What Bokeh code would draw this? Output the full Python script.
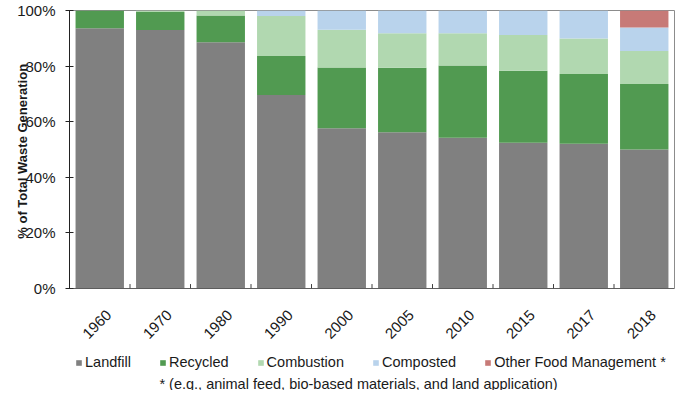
from bokeh.plotting import figure
from bokeh.models import (ColumnDataSource, FactorRange, Range1d, FixedTicker,
                          Legend, LegendItem, Label, Span)
from bokeh.core.properties import value
from bokeh.layouts import column
from bokeh.transform import dodge
from bokeh.embed import file_html
from bokeh.resources import INLINE
import math

years = ["1960", "1970", "1980", "1990", "2000", "2005", "2010", "2015", "2017", "2018"]
landfill = [93.6, 93.0, 88.6, 69.6, 57.6, 56.2, 54.2, 52.4, 52.1, 50.0]
recycled = [6.4, 6.5, 9.6, 14.0, 21.9, 23.2, 26.0, 25.9, 25.1, 23.6]
combustion = [0.0, 0.5, 1.8, 14.4, 13.6, 12.4, 11.6, 12.9, 12.7, 11.8]
composted = [0.0, 0.0, 0.0, 2.0, 6.9, 8.2, 8.2, 8.8, 10.1, 8.5]
other_food = [0.0, 0.0, 0.0, 0.0, 0.0, 0.0, 0.0, 0.0, 0.0, 6.1]

series_names = ["Landfill", "Recycled", "Combustion", "Composted", "Other Food Management *"]
series_keys = ["landfill", "recycled", "combustion", "composted", "other_food"]
colors = ["#808080", "#519a51", "#b1d8b0", "#b9d3ec", "#c77a77"]

y_ticks = [0, 20, 40, 60, 80, 100]
y_tick_labels = ["0%", "20%", "40%", "60%", "80%", "100%"]
y_title = "% of Total  Waste Generation"
footnote = "* (e.g., animal feed, bio-based materials, and land application)"

FONT = "Liberation Sans"
TXT = "#1a1a1a"

src = ColumnDataSource(dict(year=years, landfill=landfill, recycled=recycled,
                            combustion=combustion, composted=composted,
                            other_food=other_food))

x_range = FactorRange(*years, range_padding=0)

# ---------------- main chart ----------------
p = figure(x_range=x_range, y_range=Range1d(0, 100),
           width=675, height=298, output_backend="svg", toolbar_location=None,
           min_border_left=69, min_border_right=1, min_border_top=10,
           min_border_bottom=10, x_axis_location=None)

renderers = p.vbar_stack(series_keys, x="year", width=0.8, color=colors,
                         line_color=None, source=src)

# small ticks at category boundaries
bsrc = ColumnDataSource(dict(year=years[:-1]))
p.segment(x0=dodge("year", 0.5, range=x_range), x1=dodge("year", 0.5, range=x_range),
          y0=0, y1=1.6, line_color="#404040", line_width=1, source=bsrc)

p.grid.visible = False
p.outline_line_color = "#8c8c8c"
p.outline_line_width = 1
p.background_fill_color = "white"
p.border_fill_color = "white"

# bottom axis line
p.add_layout(Span(location=0, dimension="width", line_color="#333333", line_width=1))

ya = p.yaxis[0]
ya.ticker = FixedTicker(ticks=y_ticks)
ya.major_label_overrides = {t: l for t, l in zip(y_ticks, y_tick_labels)}
ya.minor_tick_line_color = None
ya.major_tick_in = 4
ya.major_tick_out = 4
ya.axis_line_color = "#222222"
ya.major_tick_line_color = "#222222"
ya.major_label_text_font = FONT
ya.major_label_text_font_size = "15px"
ya.major_label_text_color = TXT
ya.major_label_standoff = 10
ya.axis_label = y_title
ya.axis_label_text_font = FONT
ya.axis_label_text_font_size = "13px"
ya.axis_label_text_font_style = "bold"
ya.axis_label_text_color = TXT
ya.axis_label_standoff = -16

# ---------------- lower panel: x labels, legend, footnote ----------------
p2 = figure(x_range=x_range, y_range=Range1d(-92, 0),
            width=675, height=92, output_backend="svg", toolbar_location=None,
            min_border_left=69, min_border_right=1, min_border_top=0,
            min_border_bottom=0, x_axis_location=None, y_axis_location=None)
p2.grid.visible = False
p2.outline_line_color = None
p2.border_fill_color = "white"

lsrc = ColumnDataSource(dict(year=years, label=years, zero=[0] * len(years)))
p2.text(x="year", y="zero", text="label", source=lsrc, angle=math.pi / 4,
        x_offset=9, y_offset=14, text_align="right", text_baseline="middle",
        text_font=value(FONT), text_font_size="15px", text_color=TXT)

# zero-size renderers that only provide the legend swatches
dummies = []
for c in colors:
    dummies.append(p2.vbar(x=[years[0]], top=[0], bottom=[0], width=0,
                           fill_color=c, line_color=None))

legend = Legend(items=[LegendItem(label=n, renderers=[r]) for n, r in zip(series_names, dummies)],
                orientation="horizontal", location=(6, 20),
                glyph_width=7, glyph_height=7, label_standoff=3, spacing=28,
                label_text_font=FONT, label_text_font_size="14.5px", label_text_color=TXT,
                border_line_color=None, background_fill_alpha=0, padding=2, margin=0)
p2.add_layout(legend, "center")

note = Label(x=289, y=7, x_units="screen", y_units="screen", text=footnote,
             text_align="center", text_baseline="middle", text_font=FONT,
             text_font_size="14.5px", text_color=TXT)
p2.add_layout(note)

layout = column(p, p2, spacing=0)
open("out.html", "w").write(file_html(layout, INLINE))
